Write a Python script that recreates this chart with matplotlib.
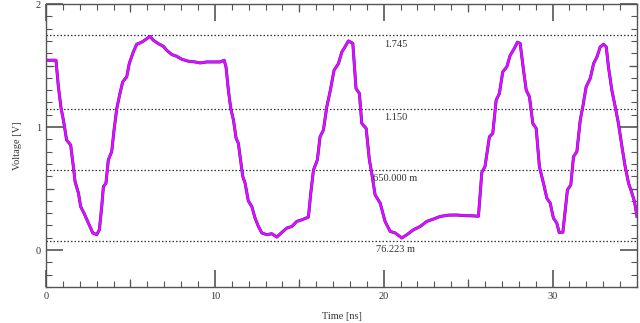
import numpy as np
import matplotlib
matplotlib.use("Agg")
import matplotlib.pyplot as plt
from matplotlib.ticker import MultipleLocator

# waveform (time in ns, voltage in V)
time_ns = [0.0, 0.59, 0.73, 0.89, 1.03, 1.22, 1.46, 1.62, 1.72, 1.92, 2.05, 2.25, 2.51, 2.77,
           3.0, 3.16, 3.3, 3.4, 3.55, 3.69, 3.89, 4.03, 4.19, 4.38, 4.54, 4.78, 4.93, 5.17,
           5.37, 5.67, 5.97, 6.16, 6.36, 6.65, 6.95, 7.15, 7.45, 7.74, 8.04, 8.43, 8.83,
           9.12, 9.52, 9.91, 10.31, 10.55, 10.66, 10.8, 10.94, 11.1, 11.26, 11.39, 11.52,
           11.65, 11.79, 11.98, 12.19, 12.38, 12.58, 12.78, 13.08, 13.37, 13.67, 13.96,
           14.26, 14.56, 14.85, 15.15, 15.54, 15.68, 15.84, 16.07, 16.23, 16.43, 16.63,
           16.82, 17.06, 17.32, 17.52, 17.7, 17.91, 18.17, 18.36, 18.56, 18.7, 18.96,
           19.15, 19.29, 19.49, 19.79, 20.08, 20.38, 20.68, 21.07, 21.37, 21.76, 22.16,
           22.55, 22.94, 23.34, 23.83, 24.3, 24.8, 25.3, 25.61, 25.81, 26.0, 26.26, 26.46,
           26.66, 26.85, 27.05, 27.29, 27.49, 27.73, 27.92, 28.08, 28.28, 28.44, 28.63,
           28.83, 29.03, 29.22, 29.46, 29.66, 29.86, 30.05, 30.25, 30.39, 30.61, 30.75,
           30.88, 31.08, 31.24, 31.44, 31.64, 31.79, 31.99, 32.23, 32.43, 32.63, 32.82,
           33.02, 33.18, 33.31, 33.51, 33.71, 33.9, 34.11, 34.3, 34.5, 34.7, 34.85, 35.0]
voltage = [1.543, 1.543, 1.33, 1.154, 1.057, 0.894, 0.854, 0.678, 0.557, 0.463, 0.354, 0.30,
           0.22, 0.139, 0.125, 0.165, 0.354, 0.516, 0.544, 0.733, 0.80, 0.976, 1.15, 1.273,
           1.367, 1.408, 1.516, 1.61, 1.673, 1.69, 1.718, 1.737, 1.705, 1.678, 1.656, 1.624,
           1.589, 1.575, 1.551, 1.535, 1.529, 1.521, 1.529, 1.529, 1.529, 1.543, 1.489, 1.30,
           1.152, 1.057, 0.908, 0.868, 0.733, 0.60, 0.544, 0.40, 0.354, 0.26, 0.192, 0.139,
           0.125, 0.133, 0.106, 0.143, 0.179, 0.192, 0.233, 0.246, 0.268, 0.463, 0.65, 0.733,
           0.921, 0.976, 1.165, 1.286, 1.462, 1.516, 1.61, 1.65, 1.70, 1.68, 1.313, 1.273,
           1.03, 0.989, 0.733, 0.625, 0.449, 0.382, 0.233, 0.152, 0.139, 0.098, 0.125, 0.165,
           0.192, 0.233, 0.252, 0.273, 0.284, 0.285, 0.28, 0.278, 0.275, 0.63, 0.68, 0.921,
           0.949, 1.219, 1.273, 1.448, 1.489, 1.583, 1.638, 1.69, 1.68, 1.462, 1.30, 1.246,
           1.03, 0.989, 0.678, 0.544, 0.422, 0.382, 0.26, 0.22, 0.143, 0.145, 0.327, 0.489,
           0.53, 0.759, 0.80, 1.057, 1.165, 1.327, 1.395, 1.516, 1.57, 1.651, 1.673, 1.651,
           1.489, 1.30, 1.165, 1.03, 0.84, 0.678, 0.544, 0.463, 0.395, 0.273]

# horizontal markers and their labels
marker_levels = [1.745, 1.150, 0.650, 0.076223]
marker_labels = ["1.745", "1.150", "650.000 m", "76.223 m"]

plt.rcParams["font.family"] = ["Liberation Serif", "DejaVu Serif"]
plt.rcParams["font.size"] = 7.5

fig = plt.figure(figsize=(6.4, 3.23), dpi=100)
ax = fig.add_axes([0.0719, 0.1115, 0.9234, 0.8761])

# three overlaid traces, magenta on top
ax.plot(time_ns, voltage, color="#3a3a5a", lw=2.2, alpha=0.8, solid_joinstyle="round")
ax.plot(time_ns, voltage, color="#3030ff", lw=1.9, solid_joinstyle="round")
ax.plot(time_ns, voltage, color="#ff00ff", lw=1.5, solid_joinstyle="round")

for lvl, lab in zip(marker_levels, marker_labels):
    ax.axhline(lvl, color="#333333", ls=(0, (1.2, 1.6)), lw=0.9, zorder=1)
    ax.annotate(lab, xy=(20.7, lvl), xytext=(0, -3), textcoords="offset points",
                ha="center", va="top", color="#333333")

ax.set_xlim(0, 35)
ax.set_ylim(-0.3, 2)
ax.xaxis.set_major_locator(MultipleLocator(10))
ax.xaxis.set_minor_locator(MultipleLocator(1))
ax.yaxis.set_major_locator(MultipleLocator(1))
ax.yaxis.set_minor_locator(MultipleLocator(0.1))
ax.tick_params(which="major", direction="in", length=12, width=1.2, color="#555555",
               top=True, right=True, labelcolor="#333333")
ax.tick_params(which="minor", direction="in", length=4, width=0.8, color="#555555",
               top=True, right=True)

# medium ticks every 5 ns / 0.5 V
for side in ["bottom", "top"]:
    sec = ax.secondary_xaxis(side)
    sec.set_xticks(np.arange(5, 35, 10))
    sec.tick_params(direction="in", length=6, width=0.9, color="#555555",
                    labelbottom=False, labeltop=False)
    sec.spines[side].set_visible(False)
for side in ["left", "right"]:
    sec = ax.secondary_yaxis(side)
    sec.set_yticks([0.5, 1.5])
    sec.tick_params(direction="in", length=6, width=0.9, color="#555555",
                    labelleft=False, labelright=False)
    sec.spines[side].set_visible(False)

for sp in ax.spines.values():
    sp.set_color("#555555")
    sp.set_linewidth(1.0)

ax.set_xlabel("Time [ns]", color="#333333", labelpad=8)
ax.set_ylabel("Voltage [V]", color="#333333", labelpad=10)

fig.savefig("out.png", dpi=100)
